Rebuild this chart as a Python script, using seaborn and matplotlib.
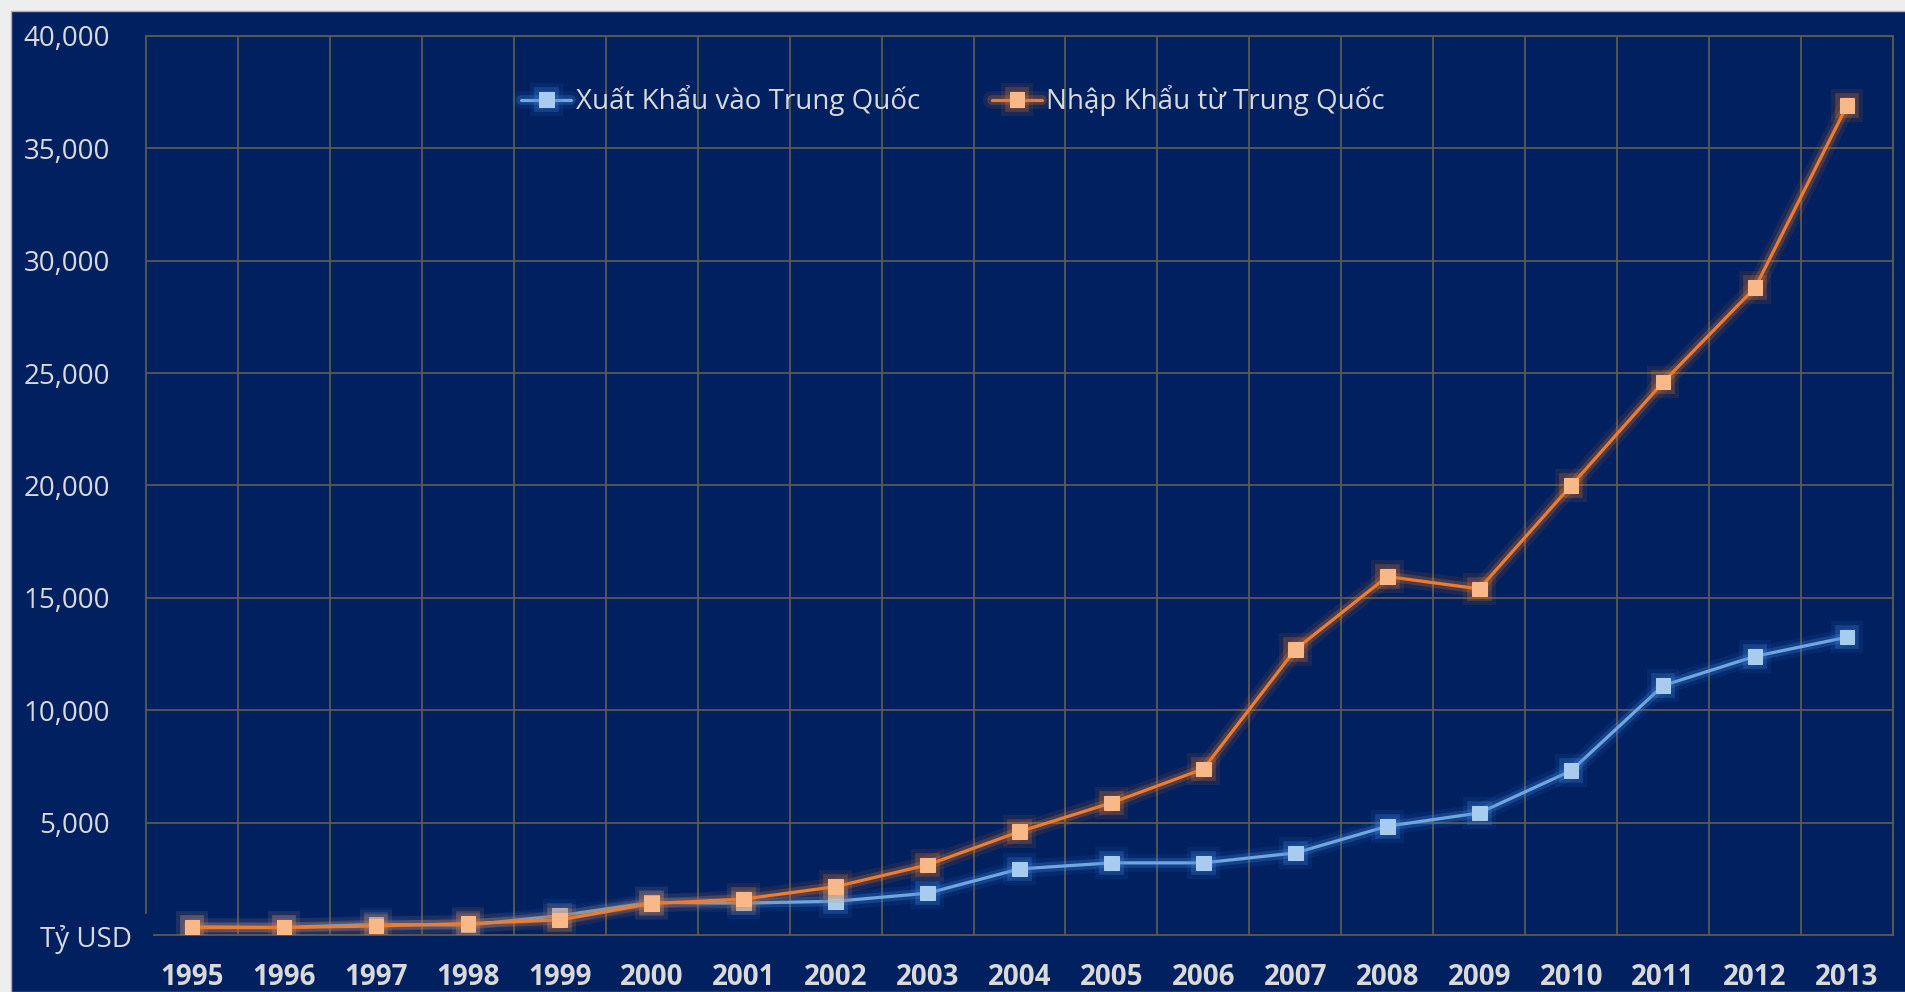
import matplotlib
matplotlib.use("Agg")
import matplotlib.pyplot as plt
import matplotlib.patheffects as pe
from matplotlib.patches import Rectangle
import numpy as np
import pandas as pd
import seaborn as sns

# data (trieu USD)
years = [1995, 1996, 1997, 1998, 1999, 2000, 2001, 2002, 2003, 2004,
         2005, 2006, 2007, 2008, 2009, 2010, 2011, 2012, 2013]
xuat_khau = [360, 340, 470, 440, 860, 1450, 1420, 1500, 1860, 2940,
             3210, 3210, 3650, 4840, 5430, 7310, 11100, 12400, 13250]
nhap_khau = [330, 330, 400, 510, 670, 1400, 1600, 2150, 3120, 4600,
             5880, 7390, 12700, 15950, 15400, 20000, 24600, 28800, 36900]
series_names = ["Xuất Khẩu vào Trung Quốc", "Nhập Khẩu từ Trung Quốc"]
y_ticks = [5000, 10000, 15000, 20000, 25000, 30000, 35000, 40000]

navy = "#002060"
grid_col = "#5b5a4f"
text_col = "#d9d9d9"

sns.set_style("dark")
plt.rcParams["font.family"] = ["Open Sans", "DejaVu Sans"]

df = pd.DataFrame({"idx": np.arange(len(years)), "xk": xuat_khau, "nk": nhap_khau})

fig = plt.figure(figsize=(19.05, 9.92), dpi=100)
fig.patch.set_facecolor("#eeeeee")
fig.patches.append(Rectangle((11 / 1905, 0), 1, 1 - 11 / 992, transform=fig.transFigure,
                             facecolor=navy, edgecolor="#b0b0b0", lw=1, zorder=-10))

ax = fig.add_axes([146 / 1905, 57 / 992, (1893 - 146) / 1905, (935 - 36) / 992])
ax.set_facecolor(navy)

# soft glow under the lines
glow_blue = [pe.Stroke(linewidth=13, foreground="#2f6fd0", alpha=0.12),
             pe.Stroke(linewidth=7, foreground="#4a8be0", alpha=0.25), pe.Normal()]
glow_orange = [pe.Stroke(linewidth=13, foreground="#d0661e", alpha=0.12),
               pe.Stroke(linewidth=7, foreground="#e07a30", alpha=0.25), pe.Normal()]

sns.lineplot(data=df, x="idx", y="xk", ax=ax, color="#6fa8e0", lw=2.3,
             marker="s", markersize=10.5, markerfacecolor="#a8ccef",
             markeredgecolor="#a8ccef", label=series_names[0],
             path_effects=glow_blue, zorder=3)
sns.lineplot(data=df, x="idx", y="nk", ax=ax, color="#ed7d31", lw=2.3,
             marker="s", markersize=10.5, markerfacecolor="#f8b887",
             markeredgecolor="#f8b887", label=series_names[1],
             path_effects=glow_orange, zorder=4)

n = len(years)
ax.set_xlim(-0.5, n - 0.5)
ax.set_ylim(0, 40000)
ax.set_xticks(np.arange(n))
ax.set_xticklabels([str(y) for y in years], fontsize=20, fontweight="bold", color=text_col)
ax.set_xticks(np.arange(1, n + 1) - 0.5, minor=True)
ax.set_yticks(y_ticks)
ax.set_yticklabels([f"{v:,}" for v in y_ticks], fontsize=20, color=text_col)
ax.tick_params(axis="both", which="both", length=0)
ax.tick_params(axis="x", pad=20)
ax.tick_params(axis="y", pad=26)
ax.grid(False)
ax.grid(True, which="minor", axis="x", color=grid_col, lw=1.3)
ax.grid(True, which="major", axis="y", color=grid_col, lw=1.3)
for s in ax.spines.values():
    s.set_visible(True)
    s.set_color(grid_col)
    s.set_linewidth(1.3)
ax.spines["left"].set_bounds(1000, 40000)
ax.spines["bottom"].set_bounds(-0.41, n - 0.5)
ax.set_xlabel("")
ax.set_ylabel("")

ax.text(-60 / 1747, -5 / 899, "Tỷ USD", transform=ax.transAxes, ha="center", va="center",
        fontsize=20, color=text_col)

leg = ax.legend(loc="center", bbox_to_anchor=(0.462, 0.928), ncol=2, frameon=False,
                fontsize=20, handlelength=1.8, handletextpad=0.15, columnspacing=2.6)
for t in leg.get_texts():
    t.set_color(text_col)

fig.savefig("out.png", dpi=100, facecolor=fig.get_facecolor())
